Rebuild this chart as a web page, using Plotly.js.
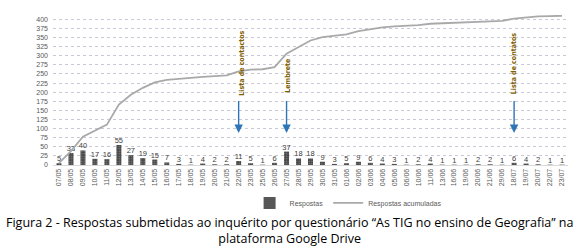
<!DOCTYPE html>
<html>
<head>
<meta charset="utf-8">
<script src="https://cdn.plot.ly/plotly-3.0.1.min.js"></script>
<style>html,body{margin:0;padding:0;background:#fff;}#chart{width:580px;height:250px;}</style>
</head>
<body>
<div id="chart"></div>
<script>
const dates = ["07/05","08/05","09/05","10/05","11/05","12/05","13/05","14/05","15/05","16/05","17/05","18/05","19/05","20/05","21/05","22/05","23/05","25/05","26/05","27/05","28/05","29/05","30/05","31/05","01/06","02/06","03/06","04/06","05/06","06/06","10/06","11/06","13/06","16/06","19/06","20/06","21/06","29/06","18/07","19/07","20/07","22/07","23/07"];
const respostas = [5,33,40,17,16,55,27,19,15,7,3,1,4,2,2,11,5,1,6,37,18,18,9,3,5,9,6,4,3,1,2,4,1,1,1,2,2,1,6,4,2,1,1];
const acumuladas = [5,38,78,95,111,166,193,212,227,234,237,238,242,244,246,257,262,263,269,306,324,342,351,354,359,368,374,378,381,382,384,388,389,390,391,393,395,396,402,406,408,409,410];
const yTicks = [0,25,50,75,100,125,150,175,200,225,250,275,300,325,350,375,400];
const eventos = [
  {date:"22/05", label:"Lista de contactos"},
  {date:"27/05", label:"Lembrete"},
  {date:"18/07", label:"Lista de contatos"}
];
const legendNames = ["Respostas","Respostas acumuladas"];
const caption = "Figura 2 - Respostas submetidas ao inquérito por questionário “As TIG no ensino de Geografia” na<br>plataforma Google Drive";

const labelFont = {size:7.5, color:'#404040', family:'Liberation Sans'};
const traces = [
  {
    type:'scatter', mode:'lines', x:dates, y:acumuladas, name:legendNames[1],
    line:{color:'#a9a9a9', width:1.8},
    hoverinfo:'none', showlegend:true, legendrank:2
  },
  {
    type:'bar', x:dates, y:respostas, name:legendNames[0], legendrank:1,
    text:respostas.map(String), textposition:'outside', constraintext:'none',
    textfont:labelFont, outsidetextfont:labelFont,
    cliponaxis:false,
    marker:{color:'#4a4a4a', pattern:{shape:'.', fgcolor:'#8a8a8a', bgcolor:'#484848', size:2.5, solidity:0.25}},
    hoverinfo:'none'
  }
];

const annotations = [];
eventos.forEach(ev => {
  annotations.push({
    x:ev.date, y:88, xref:'x', yref:'y', ax:ev.date, ay:180, axref:'x', ayref:'y',
    text:'', showarrow:true, arrowhead:2, arrowsize:1.2, arrowwidth:1.4, arrowcolor:'#2e75b6'
  });
});
const evFont = {family:'DejaVu Sans Condensed, Liberation Sans Narrow', size:7, color:'#7f6000', weight:'bold'};
annotations.push({x:eventos[0].date, y:280, xref:'x', yref:'y', text:eventos[0].label, textangle:-90, showarrow:false, xshift:3, font:evFont});
annotations.push({x:eventos[1].date, y:244, xref:'x', yref:'y', text:eventos[1].label, textangle:-90, showarrow:false, xshift:2, font:evFont});
annotations.push({x:eventos[2].date, y:277, xref:'x', yref:'y', text:eventos[2].label, textangle:-90, showarrow:false, xshift:0, font:evFont});
annotations.push({x:0.46, y:-0.31, xref:'paper', yref:'paper', text:caption, showarrow:false, xanchor:'center', yanchor:'top',
  align:'center', font:{family:'Open Sans', size:12.5, color:'#000'}});

const layout = {
  width:580, height:250,
  margin:{l:53, r:12, t:14.6, b:85, pad:0},
  paper_bgcolor:'#fff', plot_bgcolor:'#fff',
  bargap:0.58,
  showlegend:true,
  legend:{orientation:'h', x:0.573, xanchor:'center', y:-0.253, yanchor:'middle',
    font:{size:7, color:'#595959', family:'Liberation Sans'}, itemwidth:30, tracegroupgap:0, bgcolor:'rgba(0,0,0,0)'},
  xaxis:{type:'category', tickangle:-90, tickfont:{size:7, color:'#595959', family:'Liberation Sans'},
    showgrid:false, showline:true, linecolor:'#d9d9d9', linewidth:1, ticks:'', automargin:false, fixedrange:true},
  yaxis:{range:[0,412], tickvals:yTicks, ticktext:yTicks.map(String), tickfont:{size:7, color:'#595959', family:'Liberation Sans'},
    showgrid:true, gridcolor:'#c9c9d6', griddash:'dot', gridwidth:1, zeroline:false, ticks:'', automargin:false, fixedrange:true, ticklabelstandoff:4},
  annotations:annotations
};

Plotly.newPlot('chart', traces, layout, {staticPlot:true, displayModeBar:false});
</script>
</body>
</html>
